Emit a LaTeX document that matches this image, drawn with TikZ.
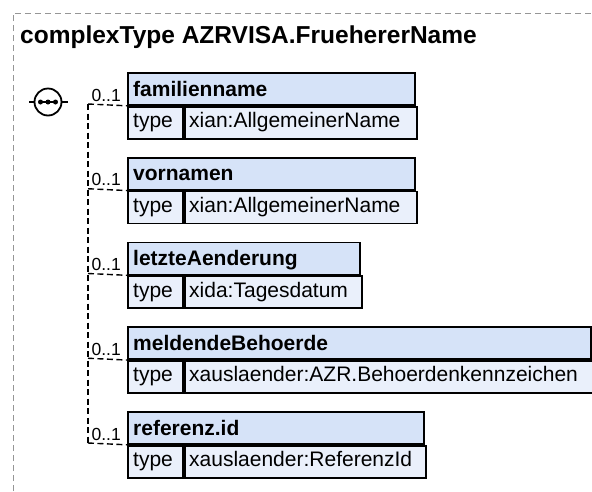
\documentclass[tikz,border=0pt]{standalone}
\usepackage{fontspec}
\setmainfont{Liberation Sans}
\begin{document}
\begin{tikzpicture}[x=1pt,y=-1pt,
  hdrbox/.style={draw=black, line width=1.8pt, fill=hdrblue, anchor=north west, minimum height=32pt, inner sep=0pt},
  rowbox/.style={draw=black, line width=1.8pt, fill=rowblue, anchor=north west, minimum height=32pt, inner sep=0pt},
  hdrtext/.style={anchor=base west, font=\fontsize{21}{24}\selectfont\bfseries, inner sep=0pt},
  rowtext/.style={anchor=base west, font=\fontsize{21}{24}\selectfont, inner sep=0pt},
  card/.style={font=\fontsize{17.5}{20}\selectfont, inner sep=0pt, anchor=base east},
  conn/.style={draw=black, line width=1.4pt, dash pattern=on 6pt off 3.5pt},
]
\definecolor{hdrblue}{RGB}{214,227,248}
\definecolor{rowblue}{RGB}{234,240,251}
\definecolor{framegray}{RGB}{150,150,150}
\useasboundingbox (0,0) rectangle (592,491);
\fill[white] (0,0) rectangle (592,491);
% frame
\coordinate (fb) at (13,491);
\coordinate (ftl) at (13,13);
\coordinate (fr) at (592,13);
\draw[framegray, line width=1pt, dash pattern=on 6pt off 4pt] (fb) -- (ftl) -- (fr);
\node[anchor=base west, inner sep=0pt, font=\fontsize{24.5}{28}\selectfont\bfseries] (title) at (20,43) {complexType AZRVISA.FruehererName};
% sequence symbol
\node[draw=black, line width=1.8pt, fill=white, circle, minimum size=27pt, inner sep=0pt] (seq) at (48,102) {};
\coordinate (sl) at (29,102);
\coordinate (sr) at (68,102);
\draw[line width=1.4pt] (sl) -- (seq.west);
\draw[line width=1.4pt] (seq.east) -- (sr);
\coordinate (d1) at (40.5,102);
\coordinate (d2) at (48,102);
\coordinate (d3) at (55.5,102);
\draw[line width=1.6pt] (d1) -- (d3);
\fill (d1) circle (2.5pt);
\fill (d2) circle (2.5pt);
\fill (d3) circle (2.5pt);
% elements
\foreach \i/\name/\typ/\w in {
  1/familienname/xian:AllgemeinerName/287,
  2/vornamen/xian:AllgemeinerName/287,
  3/letzteAenderung/xida:Tagesdatum/232,
  4/meldendeBehoerde/xauslaender:AZR.Behoerdenkennzeichen/463,
  5/referenz.id/xauslaender:ReferenzId/296}{
  \pgfmathsetmacro{\ytop}{72+84.75*(\i-1)}
  \node[hdrbox, minimum width=\w pt] (h\i) at (127,\ytop) {};
  \node[rowbox, minimum width=55pt] (t\i) at (h\i.south west) {};
  \pgfmathsetmacro{\vw}{\w-55}
  \node[rowbox, minimum width=\vw pt] (v\i) at (t\i.north east) {};
  \node[hdrtext] (hn\i) at (133,\ytop+24) {\name};
  \node[rowtext] (tn\i) at (133,\ytop+55.5) {type};
  \node[rowtext] (vn\i) at (189,\ytop+55.5) {\typ};
  \coordinate (c\i) at (88,\ytop+32);
  \draw[conn] (c\i) -- (h\i.south west);
  \node[card] (m\i) at (121,\ytop+29) {0..1};
}
\draw[conn] (c1) -- (c5);
\end{tikzpicture}
\end{document}
